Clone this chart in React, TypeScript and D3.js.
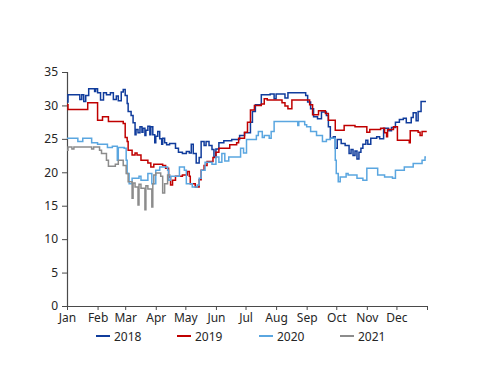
import React, { useEffect, useRef } from "react";
import * as d3 from "d3";

// day of year (0-based) / price, held until the next point
const days2018 = [0, 1, 13, 15, 17, 19, 22, 28, 29, 31, 34, 37, 40, 44, 47, 50, 52, 55, 57, 59, 61, 62, 65, 67, 69, 70, 72, 74, 76, 77, 79, 80, 82, 84, 85, 87, 89, 90, 92, 94, 96, 97, 99, 101, 104, 110, 113, 117, 121, 124, 126, 128, 131, 134, 136, 139, 141, 144, 147, 149, 151, 154, 159, 167, 175, 180, 186, 188, 191, 197, 206, 210, 212, 221, 224, 242, 244, 247, 250, 254, 258, 263, 265, 267, 270, 272, 274, 278, 282, 286, 288, 290, 292, 294, 296, 298, 300, 303, 305, 308, 314, 317, 321, 326, 329, 333, 337, 341, 344, 349, 351, 354, 356, 359, 364];
const vals2018 = [30.5, 31.6, 30.9, 31.6, 30.6, 31.5, 32.5, 32.1, 32.5, 31.9, 30.8, 31.9, 31.6, 31.9, 30.9, 31.4, 30.7, 32.0, 32.4, 31.5, 30.3, 29.1, 28.5, 27.4, 25.6, 26.4, 25.9, 26.8, 26.0, 26.6, 25.5, 26.3, 26.9, 25.6, 26.8, 25.6, 24.4, 25.4, 26.1, 25.0, 24.2, 25.1, 24.4, 24.1, 24.3, 23.6, 23.0, 22.8, 23.1, 22.9, 24.2, 22.8, 21.4, 22.2, 24.6, 24.0, 24.6, 24.0, 23.4, 22.3, 23.5, 24.4, 24.7, 24.9, 25.5, 25.9, 27.5, 29.1, 30.1, 31.6, 31.7, 31.0, 31.7, 31.1, 31.9, 31.5, 30.5, 29.5, 28.3, 28.0, 29.0, 28.5, 26.8, 25.1, 25.3, 23.6, 24.9, 24.3, 24.0, 22.8, 23.4, 22.5, 23.2, 22.0, 23.0, 23.6, 24.2, 24.8, 24.2, 25.1, 25.3, 25.0, 26.6, 26.2, 26.7, 27.5, 27.9, 28.1, 27.4, 28.2, 28.9, 27.7, 29.1, 30.6, 30.6];

const days2019 = [0, 1, 20, 21, 30, 31, 36, 42, 57, 59, 61, 62, 66, 69, 71, 75, 82, 85, 88, 97, 100, 103, 105, 107, 110, 117, 122, 124, 125, 130, 134, 136, 139, 142, 148, 151, 154, 165, 172, 174, 180, 183, 186, 190, 197, 200, 203, 218, 221, 224, 228, 243, 246, 249, 255, 262, 265, 272, 281, 292, 304, 307, 318, 322, 324, 325, 331, 335, 347, 348, 356, 358, 360, 364];
const vals2019 = [30.1, 29.4, 29.4, 30.4, 30.4, 27.8, 28.3, 27.6, 27.3, 25.2, 24.6, 23.3, 22.6, 22.9, 22.6, 21.8, 21.4, 20.8, 21.2, 21.0, 20.6, 19.3, 18.1, 18.8, 19.4, 19.6, 20.1, 19.4, 18.3, 17.8, 18.9, 20.3, 21.0, 21.6, 22.2, 23.0, 23.6, 24.1, 24.4, 25.1, 26.0, 27.5, 29.3, 30.0, 30.2, 31.0, 30.8, 30.4, 29.9, 29.5, 30.8, 30.8, 30.1, 28.6, 29.2, 28.8, 27.8, 26.3, 27.0, 26.8, 26.0, 26.4, 26.6, 25.9, 25.3, 26.4, 26.8, 24.8, 24.4, 26.2, 26.0, 25.5, 26.1, 26.0];

const days2020 = [0, 11, 16, 25, 31, 41, 46, 51, 52, 58, 60, 61, 63, 66, 73, 75, 82, 86, 90, 94, 102, 103, 105, 114, 119, 121, 127, 132, 134, 136, 140, 147, 151, 154, 157, 160, 164, 176, 179, 182, 192, 194, 198, 200, 205, 207, 210, 234, 235, 241, 243, 247, 253, 259, 263, 267, 272, 273, 275, 277, 283, 285, 294, 300, 304, 315, 322, 330, 333, 342, 351, 360, 363, 364];
const vals2020 = [25.1, 24.6, 25.1, 24.4, 24.2, 23.7, 23.9, 21.8, 23.7, 23.6, 21.8, 19.8, 18.3, 19.1, 19.4, 18.8, 19.8, 18.3, 20.3, 20.8, 20.3, 18.8, 19.4, 20.8, 20.3, 18.3, 17.8, 18.1, 19.1, 20.3, 21.5, 21.2, 22.3, 21.5, 22.8, 21.7, 22.3, 23.6, 22.9, 24.9, 25.5, 26.1, 25.2, 25.5, 25.1, 26.1, 27.6, 27.0, 27.6, 27.1, 26.8, 26.1, 25.5, 24.6, 24.9, 25.1, 21.8, 19.8, 18.6, 19.3, 19.8, 19.6, 19.1, 18.8, 20.6, 19.6, 19.3, 19.1, 20.3, 20.8, 21.3, 21.8, 22.3, 22.3];

const days2021 = [0, 1, 5, 7, 25, 27, 33, 35, 40, 42, 49, 52, 57, 60, 62, 66, 67, 69, 72, 73, 75, 79, 80, 82, 86, 87, 88, 90, 95, 97, 99, 102, 105];
const vals2021 = [23.3, 23.8, 23.5, 23.8, 23.5, 23.8, 23.3, 22.8, 21.8, 20.9, 21.2, 21.8, 21.0, 19.8, 18.6, 16.1, 18.4, 17.8, 15.1, 18.2, 17.6, 14.4, 18.0, 17.5, 14.8, 18.3, 19.6, 19.9, 19.4, 16.9, 18.3, 19.6, 19.6];

const seriesNames = ["2018", "2019", "2020", "2021"];
const seriesColors = ["#103c9c", "#c00000", "#5aa6e0", "#8c8c8c"];
const seriesDays = [days2018, days2019, days2020, days2021];
const seriesVals = [vals2018, vals2019, vals2020, vals2021];

const monthLabels = ["Jan", "Feb", "Mar", "Apr", "May", "Jun", "Jul", "Aug", "Sep", "Oct", "Nov", "Dec"];
const monthStarts = [0, 31, 59, 90, 120, 151, 181, 212, 243, 273, 304, 334];
const yTicks = [0, 5, 10, 15, 20, 25, 30, 35];

export default function App() {
  const ref = useRef<SVGSVGElement>(null);

  useEffect(() => {
    const svg = d3.select(ref.current);
    svg.selectAll("*").remove();
    const font = "'Noto Sans', sans-serif";
    const axisColor = "#4a4a4a";

    const x = d3.scaleLinear().domain([0, 365]).range([67, 427]);
    const y = d3.scaleLinear().domain([0, 35]).range([306, 72]);

    // y axis
    const yAxis = svg.append("g").attr("transform", "translate(67,0)")
      .call(d3.axisLeft(y).tickValues(yTicks).tickSize(5).tickPadding(4));
    yAxis.select(".domain").attr("stroke", axisColor).attr("stroke-width", 1.2);
    yAxis.selectAll(".tick line").attr("stroke", axisColor);
    yAxis.selectAll("text").attr("font-family", font).attr("font-size", 12).attr("fill", "#262626");

    // x axis
    const xAxis = svg.append("g").attr("transform", "translate(0,306)")
      .call(d3.axisBottom(x).tickValues([...monthStarts, 365]).tickSize(4).tickSizeOuter(0).tickPadding(3)
        .tickFormat((d, i) => (i < monthLabels.length ? monthLabels[i] : "")));
    xAxis.select(".domain").attr("stroke", axisColor).attr("stroke-width", 1.2);
    xAxis.selectAll(".tick line").attr("stroke", axisColor);
    xAxis.selectAll("text").attr("font-family", font).attr("font-size", 12).attr("fill", "#262626");

    const line = d3.line<[number, number]>()
      .x(d => x(d[0]))
      .y(d => y(d[1]))
      .curve(d3.curveStepAfter);

    seriesNames.forEach((name, i) => {
      const pts = seriesDays[i].map((d, j) => [d, seriesVals[i][j]] as [number, number]);
      svg.append("path")
        .datum(pts)
        .attr("fill", "none")
        .attr("stroke", seriesColors[i])
        .attr("stroke-width", 1.5)
        .attr("d", line);
    });

    // legend
    const legendX = [96, 177, 259, 340];
    const lg = svg.append("g");
    seriesNames.forEach((name, i) => {
      lg.append("line")
        .attr("x1", legendX[i]).attr("x2", legendX[i] + 14)
        .attr("y1", 336).attr("y2", 336)
        .attr("stroke", seriesColors[i]).attr("stroke-width", 2);
      lg.append("text")
        .attr("x", legendX[i] + 18).attr("y", 340.5)
        .attr("font-family", font).attr("font-size", 12).attr("fill", "#262626")
        .text(name);
    });
  }, []);

  return (
    <svg ref={ref} width={500} height={386}
      style={{ position: "absolute", left: 0, top: 0, background: "#fff" }} />
  );
}
